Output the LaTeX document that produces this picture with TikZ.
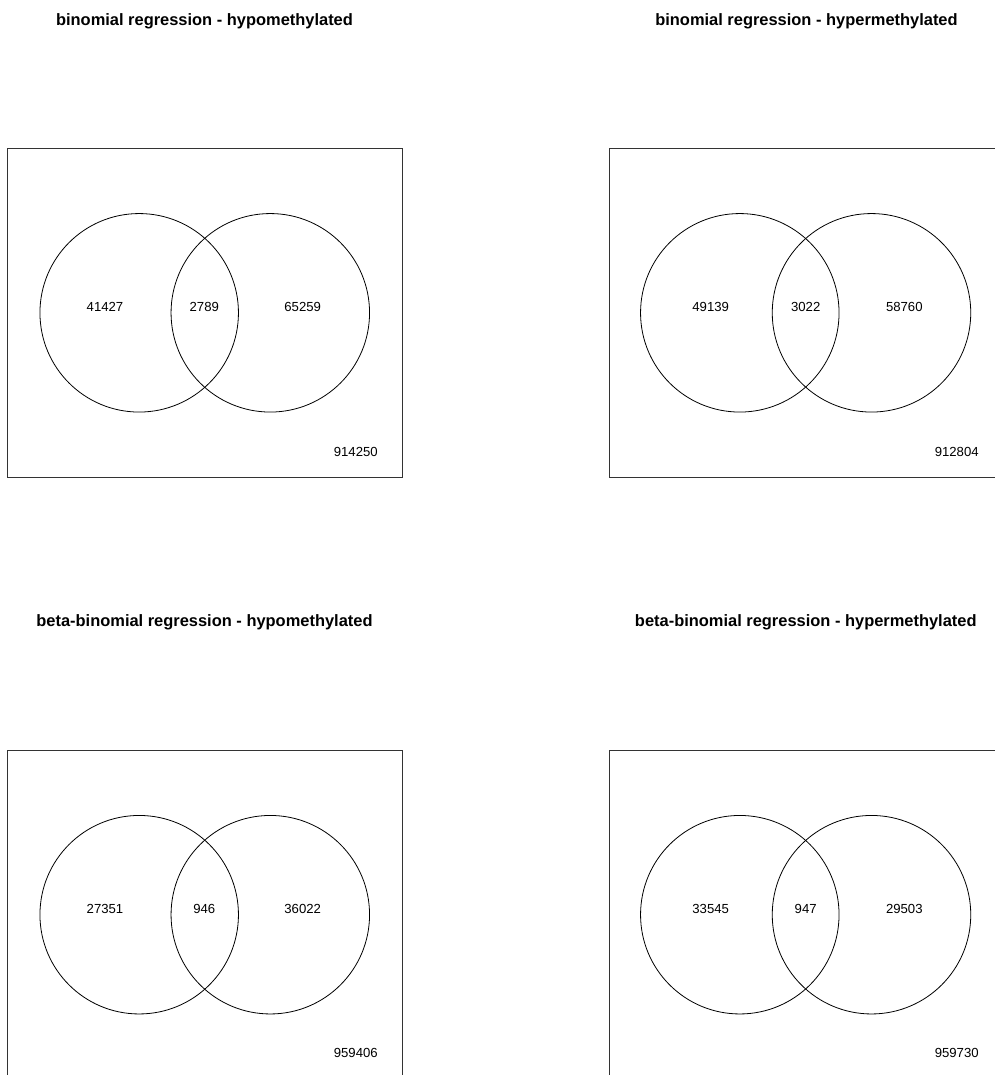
\documentclass[tikz,border=0pt]{standalone}
\usepackage{fontspec}
\setmainfont{Liberation Sans}
\begin{document}
\begin{tikzpicture}[x=1bp,y=-1bp,
  ttl/.style={font=\fontsize{16.5}{18}\selectfont\bfseries, inner sep=0pt},
  num/.style={font=\fontsize{13.2}{15}\selectfont, inner sep=0pt},
  frame/.style={draw=black!80, line width=0.8bp},
  setc/.style={circle, draw=black, line width=0.8bp, minimum size=198.5bp, inner sep=0pt}]
\useasboundingbox (0,0) rectangle (995,1075);
\clip (0,0) rectangle (995,1075);
\fill[white] (0,0) rectangle (995,1075);
% ---- panel 1
\node[ttl] (t1) at (204.5,21) {binomial regression - hypomethylated};
\node[frame, minimum width=395bp, minimum height=329.4bp, inner sep=0pt] (b1) at (204.8,313) {};
\node[setc] (a1) at (139.2,312.8) {};
\node[setc] (c1) at (270.3,312.8) {};
\node[num] (n1a) at (105,306.7) {41427};
\node[num] (n1b) at (204.3,306.7) {2789};
\node[num] (n1c) at (302.7,306.7) {65259};
\node[num] (n1d) at (355.8,451.7) {914250};
% ---- panel 2
\node[ttl] (t2) at (806.5,21) {binomial regression - hypermethylated};
\node[frame, minimum width=395bp, minimum height=329.4bp, inner sep=0pt] (b2) at (806.5,313) {};
\node[setc] (a2) at (739.8,312.8) {};
\node[setc] (c2) at (871.5,312.8) {};
\node[num] (n2a) at (710.7,306.7) {49139};
\node[num] (n2b) at (805.7,306.7) {3022};
\node[num] (n2c) at (904.3,306.7) {58760};
\node[num] (n2d) at (956.7,451.7) {912804};
% ---- panel 3
\node[ttl] (t3) at (204.5,622.7) {beta-binomial regression - hypomethylated};
\node[frame, minimum width=395bp, minimum height=329.4bp, inner sep=0pt] (b3) at (204.8,915.4) {};
\node[setc] (a3) at (139.2,914.7) {};
\node[setc] (c3) at (270.3,914.7) {};
\node[num] (n3a) at (105,909) {27351};
\node[num] (n3b) at (204.3,909) {946};
\node[num] (n3c) at (302.7,909) {36022};
\node[num] (n3d) at (355.8,1053.3) {959406};
% ---- panel 4
\node[ttl] (t4) at (805.8,622.7) {beta-binomial regression - hypermethylated};
\node[frame, minimum width=395bp, minimum height=329.4bp, inner sep=0pt] (b4) at (806.5,915.4) {};
\node[setc] (a4) at (739.8,914.7) {};
\node[setc] (c4) at (871.5,914.7) {};
\node[num] (n4a) at (710.7,909) {33545};
\node[num] (n4b) at (805.7,909) {947};
\node[num] (n4c) at (904.3,909) {29503};
\node[num] (n4d) at (956.7,1053.3) {959730};
\end{tikzpicture}
\end{document}
